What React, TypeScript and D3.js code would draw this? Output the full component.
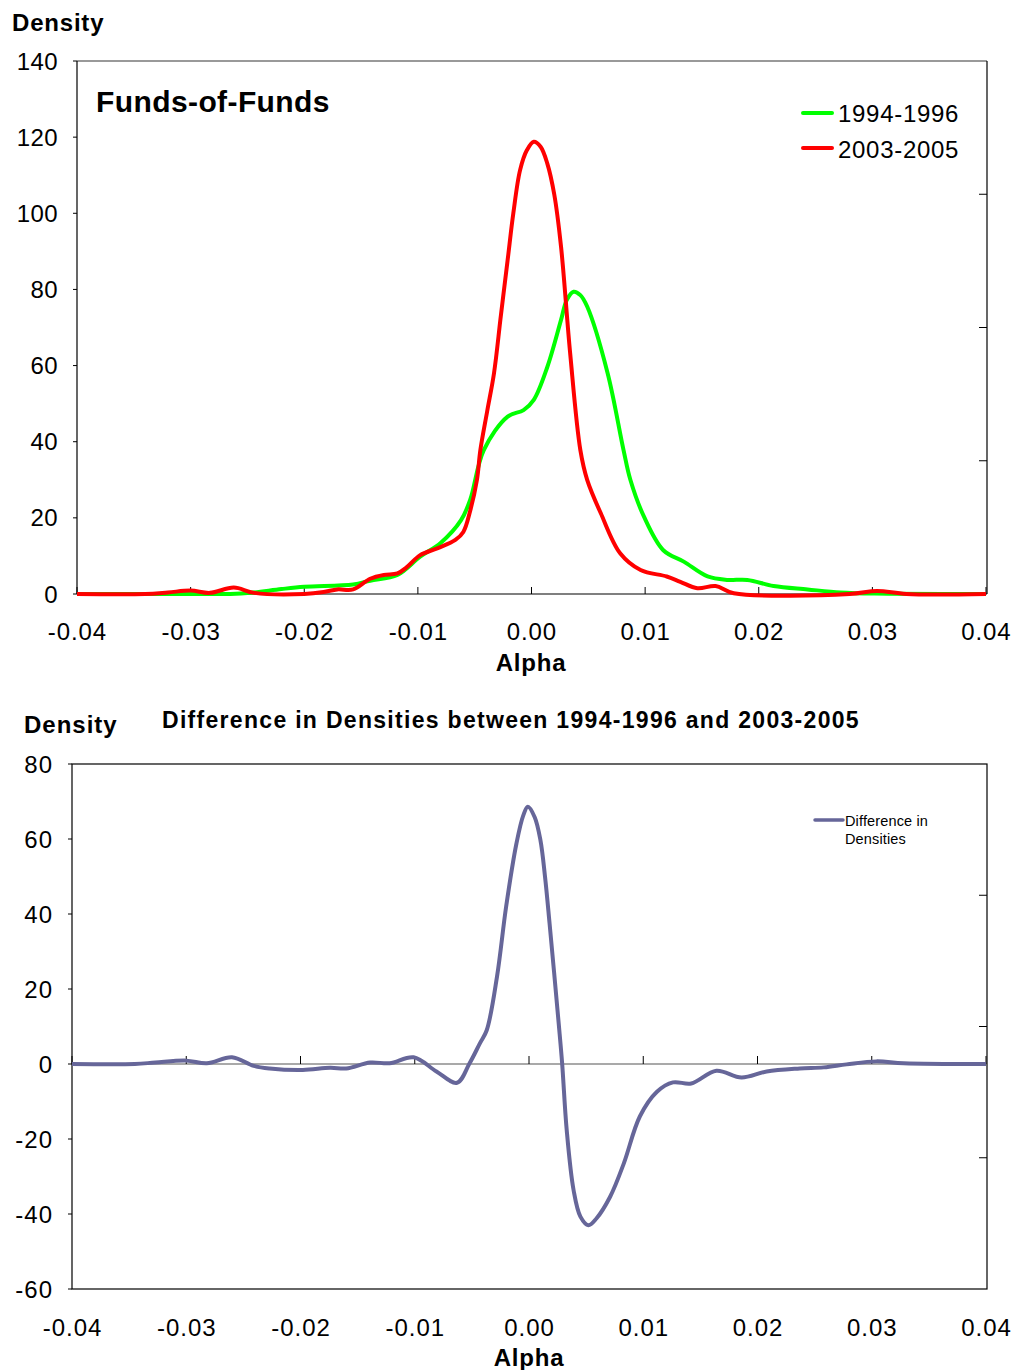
import React from "react";
import * as d3 from "d3";

// ---------- Data ----------
const alpha9496 = [-0.04, -0.03, -0.0265, -0.0247, -0.022, -0.020, -0.0157, -0.0142, -0.0118, -0.0098, -0.008, -0.0062, -0.0054, -0.0042, -0.0021, -0.0007, 0.0002, 0.0014, 0.0026, 0.0031, 0.0037, 0.0043, 0.0049, 0.0067, 0.0081, 0.0087, 0.0099, 0.0116, 0.0134, 0.0155, 0.0172, 0.019, 0.0213, 0.0243, 0.0272, 0.0302, 0.04];
const dens9496 = [0, 0, 0, 0.3, 1.3, 1.9, 2.5, 3.5, 5.0, 9.8, 13.4, 19.4, 24.7, 37.8, 46.6, 48.3, 51.0, 59.7, 72.0, 77.2, 79.4, 78.5, 75.5, 58.0, 37.8, 30.0, 20.3, 11.5, 8.5, 4.6, 3.7, 3.7, 2.1, 1.2, 0.4, 0.1, 0];

const alpha0305 = [-0.04, -0.034, -0.032, -0.030, -0.0283, -0.0262, -0.0244, -0.020, -0.0183, -0.0171, -0.0157, -0.0142, -0.013, -0.0118, -0.011, -0.0098, -0.0083, -0.0067, -0.006, -0.0054, -0.0048, -0.0045, -0.0039, -0.0033, -0.0027, -0.0021, -0.0016, -0.001, -0.0004, 0.0002, 0.0008, 0.0014, 0.002, 0.0026, 0.0034, 0.0043, 0.0049, 0.0061, 0.0078, 0.0096, 0.0119, 0.0131, 0.0146, 0.0162, 0.0178, 0.028, 0.0304, 0.033, 0.04];
const dens0305 = [0, 0, 0.4, 0.9, 0.3, 1.7, 0.3, 0, 0.5, 1.2, 1.2, 4.0, 5.0, 5.4, 7.0, 10.2, 12.0, 14.2, 16.3, 21.8, 30.0, 37.8, 48.0, 58.0, 73.0, 87.7, 100.0, 111.4, 116.6, 118.8, 117.5, 113.0, 105.0, 91.2, 63.3, 37.8, 30.0, 21.2, 10.7, 6.3, 4.6, 3.2, 1.5, 2.1, 0.2, 0, 0.8, 0, 0];

const alphaDiff = [-0.04, -0.0345, -0.0327, -0.030, -0.0282, -0.026, -0.0241, -0.0227, -0.0198, -0.0174, -0.016, -0.0139, -0.0122, -0.0101, -0.0081, -0.0063, -0.0052, -0.0043, -0.0037, -0.0028, -0.002, -0.0011, -0.0005, -0.0001, 0.0005, 0.001, 0.0014, 0.0018, 0.0026, 0.0029, 0.0033, 0.0039, 0.0045, 0.0052, 0.0059, 0.0071, 0.0083, 0.0097, 0.0112, 0.0126, 0.0142, 0.0164, 0.0186, 0.0208, 0.0237, 0.0258, 0.0278, 0.0304, 0.0328, 0.04];
const densDiff = [0, 0, 0.4, 0.9, 0.2, 1.8, -0.5, -1.2, -1.6, -1.0, -1.2, 0.4, 0.2, 1.8, -2.0, -5.0, 0.2, 5.5, 9.0, 23.3, 42.0, 58.8, 66.3, 68.6, 65.8, 59.7, 50.0, 37.5, 10.8, 0.2, -17.6, -33.6, -40.7, -43.0, -41.2, -35.4, -26.5, -14.0, -7.4, -4.9, -5.2, -1.8, -3.6, -2.0, -1.2, -0.9, -0.1, 0.7, 0.2, 0];

const xTicks = [-0.04, -0.03, -0.02, -0.01, 0.0, 0.01, 0.02, 0.03, 0.04];
const yTicksTop = [0, 20, 40, 60, 80, 100, 120, 140];
const yTicksBottom = [-60, -40, -20, 0, 20, 40, 60, 80];
const seriesNames = ["1994-1996", "2003-2005"];
const diffName = ["Difference in", "Densities"];

const FONT = "'Liberation Sans', Arial, Helvetica, sans-serif";

type Pt = [number, number];
const zip = (a: number[], b: number[]): Pt[] => a.map((v, i) => [v, b[i]]);

export default function App() {
  const tx = d3.scaleLinear().domain([-0.04, 0.04]).range([77, 986]);
  const ty = d3.scaleLinear().domain([0, 140]).range([594, 61]);
  const bx = d3.scaleLinear().domain([-0.04, 0.04]).range([72, 986]);
  const by = d3.scaleLinear().domain([-60, 80]).range([1289, 764]);

  const lineTop = d3
    .line<Pt>()
    .x((d) => tx(d[0]))
    .y((d) => ty(d[1]))
    .curve(d3.curveCatmullRom.alpha(0.5));
  const lineBot = d3
    .line<Pt>()
    .x((d) => bx(d[0]))
    .y((d) => by(d[1]))
    .curve(d3.curveCatmullRom.alpha(0.5));

  const fmt = (v: number) => v.toFixed(2);

  const topRightTicks = [0.25, 0.5, 0.75].map((f) => 61 + f * (594 - 61));
  const botRightTicks = [0.25, 0.5, 0.75].map((f) => 764 + f * (1289 - 764));
  const LS = 0.9;

  return (
    <svg width={1013} height={1370} style={{ display: "block", position: "absolute", left: 0, top: 0, background: "#fff" }} fontFamily={FONT}>
      <rect x={0} y={0} width={1013} height={1370} fill="#fff" />
      {/* ================= TOP CHART ================= */}
      <text x={12} y={31} fontSize={24} letterSpacing={0.8} fontWeight="bold">Density</text>
      <line x1={77} x2={987} y1={61} y2={61} stroke="#777" strokeWidth={1.5} />
      <line x1={77} x2={77} y1={61} y2={594} stroke="#000" strokeWidth={1.2} />
      <line x1={987} x2={987} y1={61} y2={594} stroke="#000" strokeWidth={1.2} />
      <line x1={77} x2={987} y1={594} y2={594} stroke="#000" strokeWidth={1.2} />
      {topRightTicks.map((y, i) => (
        <line key={i} x1={979} x2={987} y1={y} y2={y} stroke="#000" strokeWidth={1} />
      ))}
      {xTicks.map((t, i) => (
        <g key={i}>
          <line x1={tx(t)} x2={tx(t)} y1={594} y2={587} stroke="#000" strokeWidth={1} />
          <text x={tx(t) + LS / 2} y={640} fontSize={24} letterSpacing={LS} textAnchor="middle">{fmt(t)}</text>
        </g>
      ))}
      {yTicksTop.map((t, i) => (
        <g key={i}>
          <line x1={73} x2={77} y1={ty(t)} y2={ty(t)} stroke="#000" strokeWidth={1} />
          <text x={58} y={ty(t) + 8.5} fontSize={24} letterSpacing={0.4} textAnchor="end">{t}</text>
        </g>
      ))}
      <text x={531} y={671} fontSize={24} letterSpacing={0.8} fontWeight="bold" textAnchor="middle">Alpha</text>
      <text x={96} y={112} fontSize={30} letterSpacing={0.4} fontWeight="bold">Funds-of-Funds</text>

      <path d={lineTop(zip(alpha9496, dens9496)) || ""} fill="none" stroke="#00FF00" strokeWidth={4} strokeLinejoin="round" />
      <path d={lineTop(zip(alpha0305, dens0305)) || ""} fill="none" stroke="#FF0000" strokeWidth={4} strokeLinejoin="round" />

      <line x1={803} x2={832} y1={113} y2={113} stroke="#00FF00" strokeWidth={4} strokeLinecap="round" />
      <text x={838} y={122} fontSize={24} letterSpacing={0.7}>{seriesNames[0]}</text>
      <line x1={803} x2={832} y1={148} y2={148} stroke="#FF0000" strokeWidth={4} strokeLinecap="round" />
      <text x={838} y={158} fontSize={24} letterSpacing={0.7}>{seriesNames[1]}</text>

      {/* ================= BOTTOM CHART ================= */}
      <text x={24} y={733} fontSize={24} letterSpacing={1} fontWeight="bold">Density</text>
      <text x={162} y={728} fontSize={23} letterSpacing={1.3} fontWeight="bold">Difference in Densities between 1994-1996 and 2003-2005</text>
      <rect x={72} y={764} width={915} height={525} fill="none" stroke="#000" strokeWidth={1.2} />
      {botRightTicks.map((y, i) => (
        <line key={i} x1={979} x2={987} y1={y} y2={y} stroke="#000" strokeWidth={1} />
      ))}
      <line x1={72} x2={987} y1={by(0)} y2={by(0)} stroke="#555" strokeWidth={1.2} />
      {xTicks.map((t, i) => (
        <g key={i}>
          <line x1={bx(t)} x2={bx(t)} y1={by(0)} y2={by(0) - 8} stroke="#000" strokeWidth={1} />
          <text x={bx(t) + 0.5} y={1336} fontSize={24} letterSpacing={1} textAnchor="middle">{fmt(t)}</text>
        </g>
      ))}
      {yTicksBottom.map((t, i) => (
        <g key={i}>
          <line x1={68} x2={72} y1={by(t)} y2={by(t)} stroke="#000" strokeWidth={1} />
          <text x={53} y={by(t) + 8.5} fontSize={24} letterSpacing={1} textAnchor="end">{t}</text>
        </g>
      ))}
      <text x={529} y={1366} fontSize={24} letterSpacing={0.8} fontWeight="bold" textAnchor="middle">Alpha</text>

      <path d={lineBot(zip(alphaDiff, densDiff)) || ""} fill="none" stroke="#666699" strokeWidth={4} strokeLinejoin="round" />

      <line x1={815} x2={843} y1={820} y2={820} stroke="#666699" strokeWidth={3.5} strokeLinecap="round" />
      <text x={845} y={826} fontSize={14.5} letterSpacing={0.15}>{diffName[0]}</text>
      <text x={845} y={844} fontSize={14.5} letterSpacing={0.15}>{diffName[1]}</text>
    </svg>
  );
}
